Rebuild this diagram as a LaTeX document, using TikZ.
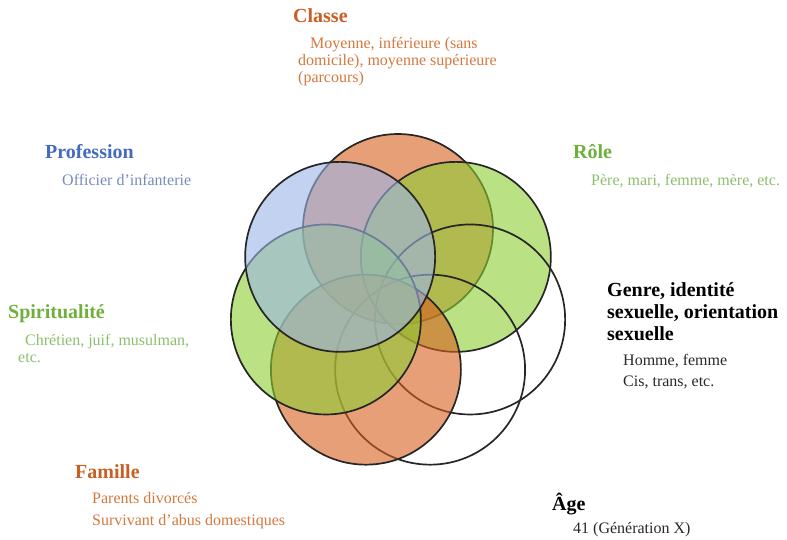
\documentclass[tikz,border=0pt]{standalone}
\usepackage{fontspec}
\setmainfont{Liberation Serif}
\usetikzlibrary{calc,positioning}
\definecolor{fillOrange}{RGB}{215,95,30}
\definecolor{fillGreen}{RGB}{140,205,50}
\definecolor{fillBlue}{RGB}{155,180,230}
\definecolor{textOrange}{RGB}{200,95,35}
\definecolor{descOrange}{RGB}{212,120,62}
\definecolor{textBlue}{RGB}{68,108,190}
\definecolor{descBlue}{RGB}{118,138,188}
\definecolor{textGreen}{RGB}{112,175,60}
\definecolor{descGreen}{RGB}{140,190,108}
\definecolor{descBlack}{RGB}{40,40,40}

\begin{document}
\begin{tikzpicture}[x=1pt,y=-1pt]
\tikzset{%
	ring/.style = { circle, draw=black!85, line width=1.7pt, minimum size=190pt, inner sep=0pt },
	colored/.style = { ring, fill=#1, fill opacity=.6 },
	title/.style = { anchor=base west, inner sep=0pt, align=left, font=\fontsize{20}{22}\selectfont\bfseries },
	desc/.style = { anchor=base west, inner sep=0pt, align=left, font=\fontsize{16}{17}\selectfont }
}
\useasboundingbox (0,0) rectangle (787,539);

\coordinate(Centre) at (398,303);

% the seven rings, clockwise from the top
\node(ClasseRing)		[colored=fillOrange]	at ($(Centre)+(-90:74)$)		{};
\node(RoleRing)			[colored=fillGreen]		at ($(Centre)+(-38.57:74)$)	{};
\node(GenreRing)		[ring]						at ($(Centre)+(12.86:74)$)		{};
\node(AgeRing)			[ring]						at ($(Centre)+(64.29:74)$)		{};
\node(FamilleRing)		[colored=fillOrange]	at ($(Centre)+(115.71:74)$)	{};
\node(SpiritRing)		[colored=fillGreen]		at ($(Centre)+(167.14:74)$)	{};
\node(ProfRing)			[colored=fillBlue]		at ($(Centre)+(218.57:74)$)	{};

% labels (multi-line nodes sit on the baseline of their last line)
\node(ClasseTitle)		[title, textOrange]	at (293,22)		{Classe};
\node(ClasseText)		[desc, descOrange]		at (298,82)
								{\hspace{12pt}Moyenne, inférieure (sans\\domicile), moyenne supérieure\\(parcours)};

\node(ProfTitle)			[title, textBlue]		at (45,158)		{Profession};
\node(ProfText)			[desc, descBlue]		at (62,185)		{Officier d'infanterie};

\node(RoleTitle)			[title, textGreen]		at (573,158)	{Rôle};
\node(RoleText)			[desc, descGreen]		at (591,185)	{Père, mari, femme, mère, etc.};

\node(SpiritTitle)		[title, textGreen]		at (8,318)		{Spiritualité};
\node(SpiritText)		[desc, descGreen]		at (18,362)
								{\hspace{7pt}Chrétien, juif, musulman,\\etc.};

\node(GenreTitle)		[title]						at (607,340)
								{Genre, identité\\sexuelle, orientation\\sexuelle};
\node(GenreText)		[desc, descBlack, font=\fontsize{16}{21}\selectfont]	at (623,386)
								{Homme, femme\\Cis, trans, etc.};

\node(FamilleTitle)		[title, textOrange]	at (75,478)		{Famille};
\node(FamilleText)		[desc, descOrange, font=\fontsize{16}{22}\selectfont]	at (92,525)
								{Parents divorcés\\Survivant d'abus domestiques};

\node(AgeTitle)			[title]						at (552,510)	{Âge};
\node(AgeText)			[desc, descBlack]		at (573,533)	{41 (Génération X)};
\end{tikzpicture}
\end{document}
